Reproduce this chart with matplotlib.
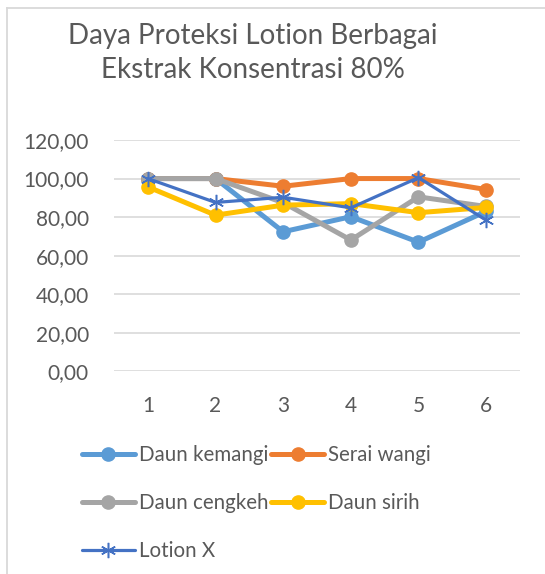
import matplotlib.pyplot as plt
from matplotlib.lines import Line2D

plt.rcParams['font.family'] = ['Lato', 'DejaVu Sans']

# data
x = [1, 2, 3, 4, 5, 6]
daun_kemangi = [100, 100, 72.4, 80.2, 67.0, 83.0]
serai_wangi = [100, 100, 96.0, 100, 100, 94.3]
daun_cengkeh = [100, 100, 87.5, 68.1, 90.5, 85.5]
daun_sirih = [95.7, 81.0, 86.2, 87.0, 82.3, 85.0]
lotion_x = [100, 87.6, 90.3, 84.8, 100.5, 78.4]
y_ticks = [0, 20, 40, 60, 80, 100, 120]

title = 'Daya Proteksi Lotion Berbagai\nEkstrak Konsentrasi 80%'
text_col = '#595959'
grid_col = '#d9d9d9'

W, H = 545, 574
fig = plt.figure(figsize=(W / 100, H / 100), dpi=100)

# chart area border (left and top visible)
fig.add_artist(Line2D([7 / W, 7 / W], [0, 1 - 8 / H], color=grid_col, lw=1.3))
fig.add_artist(Line2D([7 / W, 1], [1 - 8 / H, 1 - 8 / H], color=grid_col, lw=1.3))

ax = fig.add_axes([114 / W, 1 - 371.3 / H, (520 - 114) / W, (371.3 - 140) / H])

series = [
    ('Daun kemangi', daun_kemangi, '#5B9BD5'),
    ('Serai wangi', serai_wangi, '#ED7D31'),
    ('Daun cengkeh', daun_cengkeh, '#A5A5A5'),
    ('Daun sirih', daun_sirih, '#FFC000'),
]
handles = []
for name, vals, c in series:
    h, = ax.plot(x, vals, color=c, lw=3.6, marker='o', ms=9.5,
                 solid_capstyle='round', solid_joinstyle='round', label=name)
    handles.append(h)
h, = ax.plot(x, lotion_x, color='#4472C4', lw=2.3, marker=(6, 2, 0), ms=11,
             mew=1.1, solid_capstyle='round', label='Lotion X')
handles.append(h)

ax.set_xlim(0.5, 6.5)
ax.set_ylim(0, 120)
ax.set_xticks(x)
ax.set_yticks(y_ticks)
ax.set_yticklabels([f'{v:.2f}'.replace('.', ',') for v in y_ticks])
ax.tick_params(length=0, labelsize=15, labelcolor=text_col)
ax.tick_params(axis='y', pad=18)
ax.tick_params(axis='x', pad=18)
ax.grid(axis='y', color=grid_col, lw=1.2)
ax.set_axisbelow(True)
for s in ax.spines.values():
    s.set_visible(False)

fig.text(253 / W, 1 - 53 / H, title, ha='center', va='center',
         fontsize=20, color=text_col, linespacing=1.4)

order = [0, 2, 4, 1, 3]
leg = fig.legend([handles[i] for i in order], [handles[i].get_label() for i in order],
                 ncol=2, loc='upper left', bbox_to_anchor=(74 / W, 1 - 437 / H),
                 frameon=False, fontsize=14.8, handlelength=2.55, handletextpad=0.2,
                 columnspacing=0.15, labelspacing=1.36, borderaxespad=0)
for t in leg.get_texts():
    t.set_color(text_col)

fig.savefig('out.png', dpi=100)
